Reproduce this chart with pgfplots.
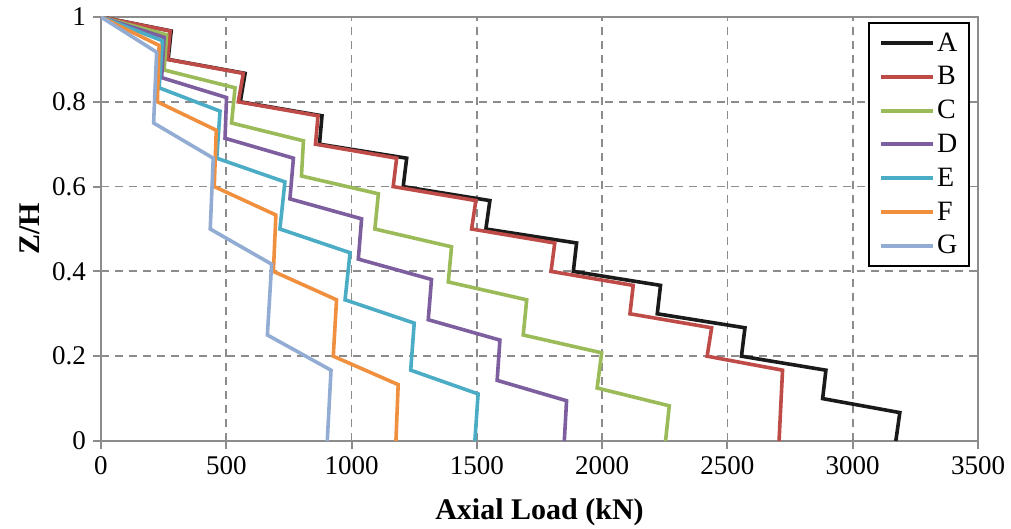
\documentclass[border=0pt]{standalone}
\usepackage{pgfplots}
\pgfplotsset{compat=1.18}
\usepackage{fontspec}
\setmainfont{Liberation Serif}
\definecolor{cA}{HTML}{1A1A1A}
\definecolor{cB}{HTML}{BE4B48}
\definecolor{cC}{HTML}{9BBB59}
\definecolor{cD}{HTML}{7D5FA0}
\definecolor{cE}{HTML}{4BACC6}
\definecolor{cF}{HTML}{F0903F}
\definecolor{cG}{HTML}{92ACD3}
\definecolor{axgray}{HTML}{8C8C8C}
\begin{document}
\begin{tikzpicture}
\begin{axis}[
  name=ax,
  scale only axis,
  width=438.5pt, height=212pt,
  xmin=0, xmax=3500, ymin=0, ymax=1,
  xtick={0,500,...,3500},
  ytick={0,0.2,0.4,0.6,0.8,1},
  yticklabels={0,0.2,0.4,0.6,0.8,1},
  scaled x ticks=false,
  /pgf/number format/assume math mode=true,
  /pgf/number format/1000 sep={},
  tick label style={font=\fontsize{13.5}{15}\selectfont, text=black},
  axis line style={axgray, line width=1pt},
  tick style={axgray, line width=1pt},
  tick align=outside,
  major tick length=4pt,
  xtick pos=bottom, ytick pos=left,
  grid=major,
  major grid style={color=axgray, line width=0.9pt, dash pattern=on 4pt off 3pt},
  xlabel={\textbf{Axial Load (kN)}},
  ylabel={\textbf{Z/H}},
  every axis x label/.style={at={(axis description cs:0.5,-0.1675)}, anchor=center, font=\fontsize{15}{17}\selectfont},
  every axis y label/.style={at={(axis description cs:-0.081,0.5)}, anchor=center, rotate=90, font=\fontsize{15}{17}\selectfont},
  legend style={at={(axis description cs:0.8746,0.988)}, anchor=north west,
    draw=black, line width=1pt, fill=white,
    font=\fontsize{14}{16}\selectfont,
    inner xsep=5pt, inner ysep=3pt, row sep=2.9pt,
    nodes={inner sep=1pt, text height=10pt, text depth=2pt}},
  legend cell align=left,
  legend image code/.code={\draw[#1, line width=2pt] (0pt,0pt) -- (26pt,0pt);},
  every axis plot/.append style={line width=1.8pt, line join=miter},
]
\addplot[cA] coordinates {(0,1) (280,0.967) (268,0.9) (575,0.867) (556,0.8) (882,0.767) (872,0.7) (1220,0.667) (1206,0.6) (1552,0.567) (1536,0.5) (1898,0.467) (1885,0.4) (2233,0.367) (2220,0.3) (2570,0.267) (2556,0.2) (2893,0.167) (2880,0.1) (3188,0.067) (3172,0)};
\addlegendentry{A}
\addplot[cB] coordinates {(0,1) (276,0.967) (265,0.9) (568,0.867) (548,0.8) (866,0.767) (856,0.7) (1180,0.667) (1166,0.6) (1496,0.567) (1479,0.5) (1811,0.467) (1796,0.4) (2124,0.367) (2111,0.3) (2437,0.267) (2419,0.2) (2720,0.167) (2706,0)};
\addlegendentry{B}
\addplot[cC] coordinates {(0,1) (262,0.958) (252,0.875) (535,0.833) (521,0.75) (808,0.708) (800,0.625) (1107,0.583) (1093,0.5) (1399,0.458) (1386,0.375) (1699,0.333) (1685,0.25) (1998,0.208) (1980,0.125) (2268,0.083) (2253,0)};
\addlegendentry{C}
\addplot[cD] coordinates {(0,1) (252,0.952) (242,0.857) (501,0.810) (495,0.714) (768,0.667) (754,0.571) (1040,0.524) (1027,0.429) (1319,0.381) (1306,0.286) (1592,0.238) (1581,0.143) (1858,0.095) (1849,0)};
\addlegendentry{D}
\addplot[cE] coordinates {(0,1) (245,0.944) (232,0.833) (475,0.778) (462,0.667) (734,0.611) (714,0.5) (994,0.444) (974,0.333) (1250,0.278) (1236,0.167) (1505,0.111) (1492,0)};
\addlegendentry{E}
\addplot[cF] coordinates {(0,1) (232,0.933) (225,0.8) (460,0.733) (452,0.6) (698,0.533) (688,0.4) (940,0.333) (927,0.2) (1186,0.133) (1177,0)};
\addlegendentry{F}
\addplot[cG] coordinates {(0,1) (222,0.917) (210,0.75) (448,0.667) (436,0.5) (681,0.417) (664,0.25) (918,0.167) (903,0)};
\addlegendentry{G}
\end{axis}
\pgfresetboundingbox
\path ([shift={(-50.5pt,-44pt)}]ax.south west) rectangle ([shift={(16.5pt,8.5pt)}]ax.north east);
\end{tikzpicture}
\end{document}
